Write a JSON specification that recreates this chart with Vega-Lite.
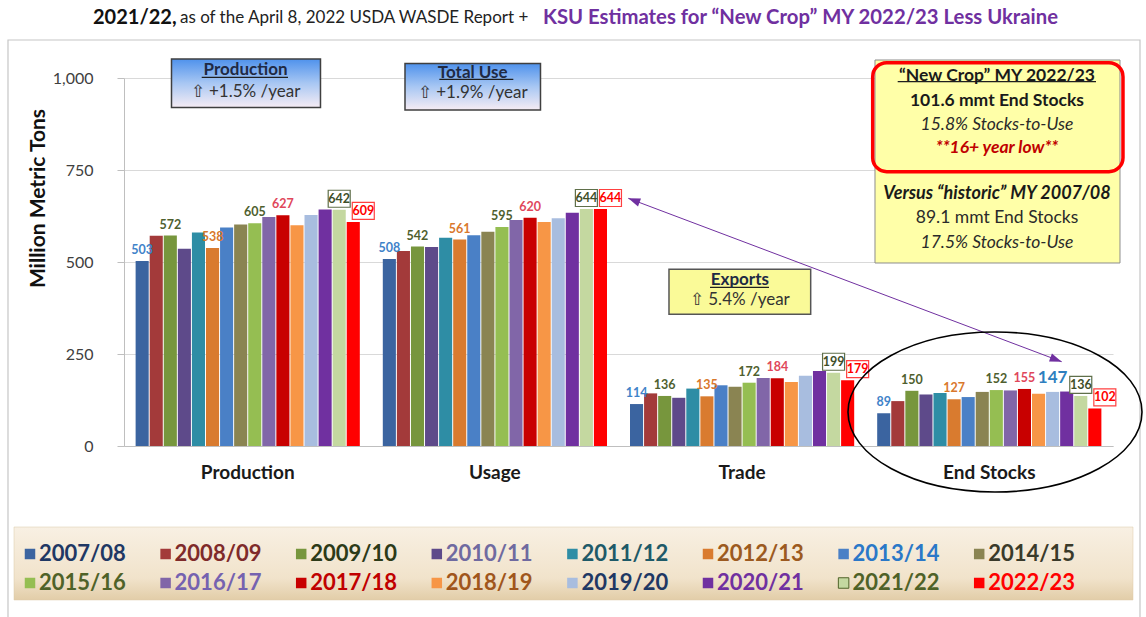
{
  "$schema": "https://vega.github.io/schema/vega-lite/v6.json",
  "width": 989,
  "height": 368,
  "autosize": {"type": "none"},
  "padding": {"left": 124, "top": 78, "right": 33, "bottom": 171},
  "background": "white",
  "config": {"view": {"stroke": null}, "font": "Lato"},
  "resolve": {"scale": {"x": "independent", "y": "independent"}},
  "layer": [
    {
      "data": {"values": [
        {"cat":"Production","yr":"2007/08","v":503},{"cat":"Production","yr":"2008/09","v":571},{"cat":"Production","yr":"2009/10","v":572},{"cat":"Production","yr":"2010/11","v":536},
        {"cat":"Production","yr":"2011/12","v":580},{"cat":"Production","yr":"2012/13","v":538},{"cat":"Production","yr":"2013/14","v":594},{"cat":"Production","yr":"2014/15","v":602},
        {"cat":"Production","yr":"2015/16","v":605},{"cat":"Production","yr":"2016/17","v":622},{"cat":"Production","yr":"2017/18","v":627},{"cat":"Production","yr":"2018/19","v":600},
        {"cat":"Production","yr":"2019/20","v":628},{"cat":"Production","yr":"2020/21","v":643},{"cat":"Production","yr":"2021/22","v":642},{"cat":"Production","yr":"2022/23","v":609},
        {"cat":"Usage","yr":"2007/08","v":508},{"cat":"Usage","yr":"2008/09","v":530},{"cat":"Usage","yr":"2009/10","v":542},{"cat":"Usage","yr":"2010/11","v":541},
        {"cat":"Usage","yr":"2011/12","v":566},{"cat":"Usage","yr":"2012/13","v":561},{"cat":"Usage","yr":"2013/14","v":573},{"cat":"Usage","yr":"2014/15","v":582},
        {"cat":"Usage","yr":"2015/16","v":595},{"cat":"Usage","yr":"2016/17","v":614},{"cat":"Usage","yr":"2017/18","v":620},{"cat":"Usage","yr":"2018/19","v":609},
        {"cat":"Usage","yr":"2019/20","v":619},{"cat":"Usage","yr":"2020/21","v":634},{"cat":"Usage","yr":"2021/22","v":644},{"cat":"Usage","yr":"2022/23","v":644},
        {"cat":"Trade","yr":"2007/08","v":114},{"cat":"Trade","yr":"2008/09","v":143},{"cat":"Trade","yr":"2009/10","v":136},{"cat":"Trade","yr":"2010/11","v":131},
        {"cat":"Trade","yr":"2011/12","v":156},{"cat":"Trade","yr":"2012/13","v":135},{"cat":"Trade","yr":"2013/14","v":165},{"cat":"Trade","yr":"2014/15","v":161},
        {"cat":"Trade","yr":"2015/16","v":172},{"cat":"Trade","yr":"2016/17","v":185},{"cat":"Trade","yr":"2017/18","v":184},{"cat":"Trade","yr":"2018/19","v":174},
        {"cat":"Trade","yr":"2019/20","v":191},{"cat":"Trade","yr":"2020/21","v":204},{"cat":"Trade","yr":"2021/22","v":199},{"cat":"Trade","yr":"2022/23","v":179},
        {"cat":"End Stocks","yr":"2007/08","v":89},{"cat":"End Stocks","yr":"2008/09","v":122},{"cat":"End Stocks","yr":"2009/10","v":150},{"cat":"End Stocks","yr":"2010/11","v":140},
        {"cat":"End Stocks","yr":"2011/12","v":144},{"cat":"End Stocks","yr":"2012/13","v":127},{"cat":"End Stocks","yr":"2013/14","v":133},{"cat":"End Stocks","yr":"2014/15","v":147},
        {"cat":"End Stocks","yr":"2015/16","v":152},{"cat":"End Stocks","yr":"2016/17","v":151},{"cat":"End Stocks","yr":"2017/18","v":155},{"cat":"End Stocks","yr":"2018/19","v":142},
        {"cat":"End Stocks","yr":"2019/20","v":147},{"cat":"End Stocks","yr":"2020/21","v":148},{"cat":"End Stocks","yr":"2021/22","v":136},{"cat":"End Stocks","yr":"2022/23","v":102}
      ]},
      "encoding": {
        "x": {"field": "cat", "type": "nominal", "sort": ["Production","Usage","Trade","End Stocks"],
          "scale": {"domain": ["Production","Usage","Trade","End Stocks"], "paddingInner": 0.093, "paddingOuter": 0.047},
          "axis": {"title": null, "ticks": false, "labelAngle": 0, "labelFont": "Lato", "labelFontSize": 19, "labelFontWeight": "bold", "labelColor": "#1A1A1A", "labelPadding": 17, "domainColor": "#BFBFBF", "domainWidth": 1.2}},
        "xOffset": {"field": "yr", "type": "nominal", "scale": {"paddingInner": 0.07}},
        "y": {"field": "v", "type": "quantitative", "scale": {"domain": [0, 1000], "nice": false},
          "axis": {"title": "Million Metric Tons", "titleFont": "Lato", "titleFontSize": 21, "titleFontWeight": "bold", "titleColor": "#111111",
            "titleX": -86, "titleY": 120, "titleAngle": -90, "titleAlign": "center", "titleBaseline": "middle",
            "values": [0, 250, 500, 750, 1000], "format": ",d", "labelFont": "Lato", "labelFontSize": 16, "labelColor": "#404040",
            "labelPadding": 24, "tickSize": 7, "tickColor": "#BFBFBF", "domainColor": "#BFBFBF", "gridColor": "#D9D9D9", "grid": true}}
      },
      "layer": [
        {
          "mark": {"type": "bar", "opacity": 1},
          "encoding": {
            "color": {"field": "yr", "type": "nominal",
              "scale": {
                "domain": ["2007/08","2008/09","2009/10","2010/11","2011/12","2012/13","2013/14","2014/15","2015/16","2016/17","2017/18","2018/19","2019/20","2020/21","2021/22","2022/23"],
                "range": ["#3B64A0","#A33A3A","#77963D","#5E4A8A","#2E8DA5","#D97B2F","#4A80C6","#8A8452","#95BE52","#8166A8","#C80000","#F79646","#A8BDDF","#7030A0","#C4D8A0","#FF0000"]
              },
              "legend": {
                "orient": "none", "legendX": -105, "legendY": 465, "direction": "horizontal", "columns": 8, "title": null,
                "symbolType": "square", "symbolSize": 110, "symbolStrokeWidth": 1,
                "symbolStrokeColor": {"expr": "datum.label == '2021/22' ? '#4F6228' : 'transparent'"},
                "labelFont": "Lato", "labelFontSize": 22, "labelFontWeight": "bold", "labelOffset": -2, "labelLimit": 200,
                "columnPadding": 28.6, "rowPadding": 7, "padding": 0,
                "labelColor": {"expr": "['#1F3864','#7F2A2A','#2C3A18','#6F6AA0','#1E5A68','#9C5A20','#2A78C8','#3A3A2A','#4F6228','#7562B0','#C00000','#A0561C','#1F3864','#7030A0','#4F6228','#FF0000'][indexof(['2007/08','2008/09','2009/10','2010/11','2011/12','2012/13','2013/14','2014/15','2015/16','2016/17','2017/18','2018/19','2019/20','2020/21','2021/22','2022/23'], datum.label)]"}
              }
            }
          }
        },
        {
          "transform": [{"filter": "datum.yr == '2021/22'"}],
          "mark": {"type": "point", "shape": "M-1,-1.773L1,-1.773L1,-0.227L-1,-0.227Z", "size": 484, "filled": true, "fill": "white", "stroke": "#5F6F4A", "strokeWidth": 1.2, "opacity": 1}
        },
        {
          "transform": [{"filter": "datum.yr == '2022/23'"}],
          "mark": {"type": "point", "shape": "M-0.091,-1.773L1.909,-1.773L1.909,-0.227L-0.091,-0.227Z", "size": 484, "filled": true, "fill": "white", "stroke": "#FF4040", "strokeWidth": 1.2, "opacity": 1}
        },
        {
          "transform": [{"filter": "indexof(['2007/08','2009/10','2012/13','2015/16','2017/18','2021/22'], datum.yr) >= 0"}],
          "mark": {"type": "text", "font": "Lato", "fontSize": 12.5, "fontWeight": "bold", "baseline": "middle", "dy": -11},
          "encoding": {
            "text": {"field": "v", "type": "quantitative"},
            "fill": {"field": "yr", "type": "nominal", "legend": null,
              "scale": {"domain": ["2007/08","2009/10","2012/13","2015/16","2017/18","2021/22"], "range": ["#3F83C9","#4F5F2F","#D9782D","#4F5F2F","#E0475B","#3F4F2A"]}}
          }
        },
        {
          "transform": [{"filter": "datum.yr == '2022/23'"}],
          "mark": {"type": "text", "font": "Lato", "fontSize": 12.5, "fontWeight": "bold", "baseline": "middle", "dy": -11, "dx": 10, "fill": "#FF0000"},
          "encoding": {"text": {"field": "v", "type": "quantitative"}}
        },
        {
          "transform": [{"filter": "datum.yr == '2019/20' && datum.cat == 'End Stocks'"}],
          "mark": {"type": "text", "font": "Lato", "fontSize": 17, "fontWeight": "bold", "baseline": "middle", "dy": -14, "fill": "#2E7FBF"},
          "encoding": {"text": {"field": "v", "type": "quantitative"}}
        }
      ]
    },
    {
      "encoding": {
        "x": {"field": "u", "type": "quantitative", "scale": {"domain": [0, 4], "nice": false, "zero": false}, "axis": null},
        "y": {"field": "v", "type": "quantitative", "scale": {"domain": [0, 1000], "nice": false, "zero": false}, "axis": null}
      },
      "layer": [
        {
          "data": {"values": [{"u": -0.4692, "u2": 4.1092, "v": 1103.3, "v2": -581}]},
          "mark": {"type": "rect", "filled": false, "stroke": "#C6C6C6", "strokeWidth": 1.2},
          "encoding": {"x2": {"field": "u2"}, "y2": {"field": "v2"}}
        },
        {
          "data": {"values": [{"u": -0.4449, "u2": 4.0809, "v": -220.1, "v2": -418.5}]},
          "mark": {"type": "rect", "stroke": "#DCCBAA", "strokeWidth": 0.5,
            "fill": {"gradient": "linear", "x1": 0, "y1": 0, "x2": 0, "y2": 1, "stops": [{"offset": 0, "color": "#F8F0E3"}, {"offset": 0.7, "color": "#F1E3CB"}, {"offset": 1, "color": "#E2CDA8"}]}},
          "encoding": {"x2": {"field": "u2"}, "y2": {"field": "v2"}}
        },
        {
          "data": {"values": [{"u": 0.1921, "u2": 0.7947, "v": 1051.6, "v2": 919.8}, {"u": 1.1365, "u2": 1.6845, "v": 1039.4, "v2": 913.0}]},
          "mark": {"type": "rect", "stroke": "#3F3F3F", "strokeWidth": 1.5,
            "fill": {"gradient": "linear", "x1": 0, "y1": 0, "x2": 0, "y2": 1, "stops": [{"offset": 0, "color": "#4F92EC"}, {"offset": 0.5, "color": "#A8C7F3"}, {"offset": 1, "color": "#F6ECF4"}]}},
          "encoding": {"x2": {"field": "u2"}, "y2": {"field": "v2"}}
        },
        {
          "data": {"values": [{"u": 2.2042, "u2": 2.7773, "v": 480.2, "v2": 357.9}]},
          "mark": {"type": "rect", "stroke": "#555555", "strokeWidth": 1.5, "fill": "#FAFA98"},
          "encoding": {"x2": {"field": "u2"}, "y2": {"field": "v2"}}
        },
        {
          "data": {"values": [{"u": 3.0374, "u2": 4.0283, "v": 1048.9, "v2": 497.3}]},
          "mark": {"type": "rect", "stroke": "#8C8C8C", "strokeWidth": 1, "fill": "#FFFFA8"},
          "encoding": {"x2": {"field": "u2"}, "y2": {"field": "v2"}}
        },
        {
          "data": {"values": [{"u": 3.0281, "u2": 4.0404, "v": 1041.6, "v2": 745.4}]},
          "mark": {"type": "rect", "filled": false, "stroke": "#FF0000", "strokeWidth": 3.5, "cornerRadius": 14},
          "encoding": {"x2": {"field": "u2"}, "y2": {"field": "v2"}}
        },
        {
          "data": {"values": [{"u": 0.3143, "u2": 0.6633, "v": 1001.9}, {"u": 1.2753, "u2": 1.5746, "v": 996.4}, {"u": 2.3701, "u2": 2.6087, "v": 431.3}, {"u": 3.1292, "u2": 3.9312, "v": 990.0}]},
          "mark": {"type": "rule", "stroke": "#1F1F1F", "strokeWidth": 1.3},
          "encoding": {"x2": {"field": "u2"}}
        },
        {
          "data": {"values": [{"u": 0.4914, "v": 1021.7, "t": "Production"}, {"u": 1.4105, "v": 1013.6, "t": "Total Use"}, {"u": 2.4908, "v": 451.1, "t": "Exports"}]},
          "mark": {"type": "text", "font": "Lato", "fontSize": 17, "fontWeight": "bold", "fill": "#1F2A44", "baseline": "middle", "align": "center"},
          "encoding": {"text": {"field": "t"}}
        },
        {
          "data": {"values": [{"u": 0.4914, "v": 962.0, "t": "⇧ +1.5% /year"}, {"u": 1.4105, "v": 958.4, "t": "⇧ +1.9% /year"}, {"u": 2.4908, "v": 396.7, "t": "⇧ 5.4% /year"}]},
          "mark": {"type": "text", "font": "Lato", "fontSize": 17, "fill": "#333333", "baseline": "middle", "align": "center"},
          "encoding": {"text": {"field": "t"}}
        },
        {
          "data": {"values": [{"u": 3.5308, "v": 1005.4, "t": "“New Crop” MY 2022/23"}, {"u": 3.5308, "v": 938.3, "t": "101.6 mmt End Stocks"}]},
          "mark": {"type": "text", "font": "Lato", "fontSize": 17.5, "fontWeight": "bold", "fill": "#1A1A1A", "baseline": "middle", "align": "center"},
          "encoding": {"text": {"field": "t"}}
        },
        {
          "data": {"values": [{"u": 3.5308, "v": 872.3, "t": "15.8% Stocks-to-Use"}, {"u": 3.5308, "v": 552.4, "t": "17.5% Stocks-to-Use"}]},
          "mark": {"type": "text", "font": "Lato", "fontSize": 17.5, "fontStyle": "italic", "fill": "#2A2A2A", "baseline": "middle", "align": "center"},
          "encoding": {"text": {"field": "t"}}
        },
        {
          "data": {"values": [{"u": 3.5308, "v": 809.8, "t": "**16+ year low**"}]},
          "mark": {"type": "text", "font": "Lato", "fontSize": 17.5, "fontStyle": "italic", "fontWeight": "bold", "fill": "#C00000", "baseline": "middle", "align": "center"},
          "encoding": {"text": {"field": "t"}}
        },
        {
          "data": {"values": [{"u": 3.5308, "v": 684.8, "t": "Versus “historic” MY 2007/08"}]},
          "mark": {"type": "text", "font": "Lato", "fontSize": 18, "fontStyle": "italic", "fontWeight": "bold", "fill": "#1A1A1A", "baseline": "middle", "align": "center"},
          "encoding": {"text": {"field": "t"}}
        },
        {
          "data": {"values": [{"u": 3.5308, "v": 619.6, "t": "89.1 mmt End Stocks"}]},
          "mark": {"type": "text", "font": "Lato", "fontSize": 17.5, "fill": "#2A2A2A", "baseline": "middle", "align": "center"},
          "encoding": {"text": {"field": "t"}}
        },
        {
          "data": {"values": [{"u": -0.1254, "v": 1163, "t": "2021/22,"}]},
          "mark": {"type": "text", "font": "Lato", "fontSize": 20, "fontWeight": "bold", "fill": "#111111", "baseline": "middle", "align": "left"},
          "encoding": {"text": {"field": "t"}}
        },
        {
          "data": {"values": [{"u": 0.2265, "v": 1163, "t": "as of the April 8, 2022 USDA WASDE Report +"}]},
          "mark": {"type": "text", "font": "Lato", "fontSize": 17, "fill": "#222222", "baseline": "middle", "align": "left"},
          "encoding": {"text": {"field": "t"}}
        },
        {
          "data": {"values": [{"u": 1.6946, "v": 1163, "t": "KSU Estimates for “New Crop” MY 2022/23 Less Ukraine"}]},
          "mark": {"type": "text", "font": "Lato", "fontSize": 20.3, "fontWeight": "bold", "fill": "#7030A0", "baseline": "middle", "align": "left"},
          "encoding": {"text": {"field": "t"}}
        },
        {
          "data": {"values": [{"u": 2.0396, "v": 673.1, "u2": 3.7925, "v2": 229.1}]},
          "mark": {"type": "rule", "stroke": "#7030A0", "strokeWidth": 1},
          "encoding": {"x2": {"field": "u2"}, "y2": {"field": "v2"}}
        },
        {
          "data": {"values": [{"u": 3.7925, "v": 229.1}]},
          "mark": {"type": "point", "shape": "M0,0L-2,-0.7L-2,0.7Z", "size": 144, "angle": 20.66, "filled": true, "fill": "#7030A0", "strokeWidth": 0, "opacity": 1}
        },
        {
          "data": {"values": [{"u": 2.0396, "v": 673.1}]},
          "mark": {"type": "point", "shape": "M0,0L-2,-0.7L-2,0.7Z", "size": 144, "angle": 200.66, "filled": true, "fill": "#7030A0", "strokeWidth": 0, "opacity": 1}
        },
        {
          "data": {"values": [{"u": 3.5227, "v": 92.4}]},
          "mark": {"type": "point", "shape": "M1,0C1,0.3005 0.5523,0.544 0,0.544C-0.5523,0.544 -1,0.3005 -1,0C-1,-0.3005 -0.5523,-0.544 0,-0.544C0.5523,-0.544 1,-0.3005 1,0Z", "size": 86436, "filled": false, "stroke": "#000000", "strokeWidth": 1.6, "opacity": 1}
        }
      ]
    }
  ]
}
